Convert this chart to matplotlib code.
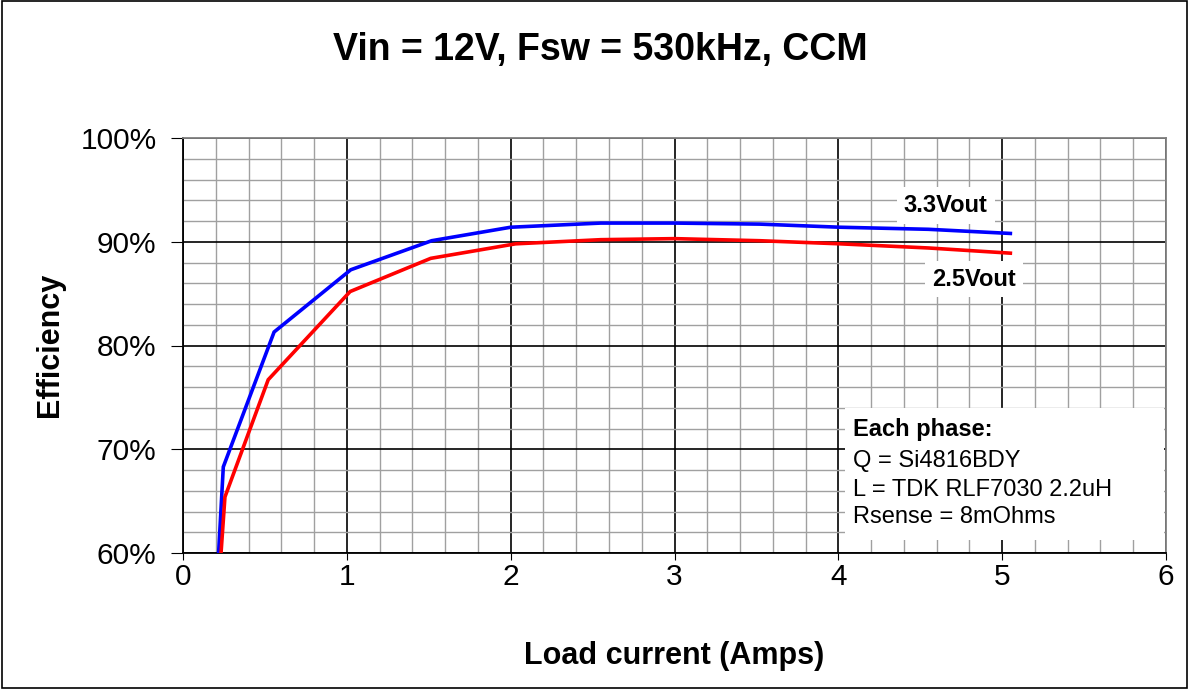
import matplotlib
matplotlib.use("Agg")
import matplotlib.pyplot as plt
from matplotlib.ticker import MultipleLocator, FuncFormatter
from matplotlib.patches import Rectangle

plt.rcParams['font.family'] = ['Liberation Sans', 'DejaVu Sans']

title = "Vin = 12V, Fsw = 530kHz, CCM"
x_label = "Load current (Amps)"
y_label = "Efficiency"

i_33 = [0.20, 0.246, 0.556, 1.024, 1.518, 2.0, 2.55, 3.0, 3.52, 4.01, 4.55, 5.05]
eff_33 = [55.0, 68.3, 81.3, 87.3, 90.1, 91.4, 91.8, 91.8, 91.7, 91.4, 91.2, 90.8]

i_25 = [0.21, 0.256, 0.52, 1.02, 1.512, 2.03, 2.55, 3.0, 3.52, 4.01, 4.55, 5.05]
eff_25 = [55.0, 65.4, 76.7, 85.2, 88.4, 89.8, 90.2, 90.3, 90.1, 89.8, 89.4, 88.9]

series_labels = ["3.3Vout", "2.5Vout"]
note_title = "Each phase:"
note_lines = ["Q = Si4816BDY", "L = TDK RLF7030 2.2uH", "Rsense = 8mOhms"]

W, H = 1189, 689
fig = plt.figure(figsize=(W / 100, H / 100), dpi=100)
ax = fig.add_axes([183 / W, 1 - 553 / H, (1166 - 183) / W, (553 - 138) / H])

ax.set_xlim(0, 6)
ax.set_ylim(60, 100)
ax.xaxis.set_major_locator(MultipleLocator(1))
ax.xaxis.set_minor_locator(MultipleLocator(0.2))
ax.yaxis.set_major_locator(MultipleLocator(10))
ax.yaxis.set_minor_locator(MultipleLocator(2))
ax.yaxis.set_major_formatter(FuncFormatter(lambda v, p: f"{v:.0f}%"))
ax.grid(which='minor', color='#a0a0a0', lw=1.0)
ax.grid(which='major', color='black', lw=1.2)
ax.set_axisbelow(True)
ax.tick_params(which='minor', length=0)
ax.tick_params(axis='y', which='major', labelsize=21.5, length=9, direction='out', pad=10)
ax.tick_params(axis='x', which='major', labelsize=21.5, length=5, direction='out', pad=2)
for s in ['left', 'bottom']:
    ax.spines[s].set_color('black')
    ax.spines[s].set_linewidth(1.3)
for s in ['top', 'right']:
    ax.spines[s].set_color('#808080')
    ax.spines[s].set_linewidth(1.3)

ax.plot(i_33, eff_33, color='#0000ff', lw=2.6, solid_joinstyle='miter', zorder=3)
ax.plot(i_25, eff_25, color='#ff0000', lw=2.6, solid_joinstyle='miter', zorder=3)

ax.text(4.656, 93.5, series_labels[0], fontsize=17, fontweight='bold', ha='center', va='center',
        bbox=dict(facecolor='white', edgecolor='none', pad=5), zorder=4)
ax.text(4.829, 86.4, series_labels[1], fontsize=17, fontweight='bold', ha='center', va='center',
        bbox=dict(facecolor='white', edgecolor='none', pad=5), zorder=4)

ax.add_patch(Rectangle((4.04, 61.25), 1.945, 12.75, facecolor='white', edgecolor='none', zorder=4))
ax.text(4.09, 71.86, note_title, fontsize=17, fontweight='bold', ha='left', va='center', zorder=5)
for k, yv in enumerate([68.87, 66.07, 63.47]):
    ax.text(4.09, yv, note_lines[k], fontsize=17, ha='left', va='center', zorder=5)

fig.text(600 / W, 1 - 50 / H, title, fontsize=27, fontweight='bold', ha='center', va='center')
fig.text(674 / W, 1 - 656 / H, x_label, fontsize=22, fontweight='bold',
         ha='center', va='center')
fig.text(50 / W, 1 - 345 / H, y_label, fontsize=22, fontweight='bold', ha='center', va='center',
         rotation=90)

fig.patches.append(Rectangle((0.002, 0.002), 0.996, 0.996, transform=fig.transFigure,
                             fill=False, edgecolor='black', lw=1.2))

fig.savefig("out.png", dpi=100)
